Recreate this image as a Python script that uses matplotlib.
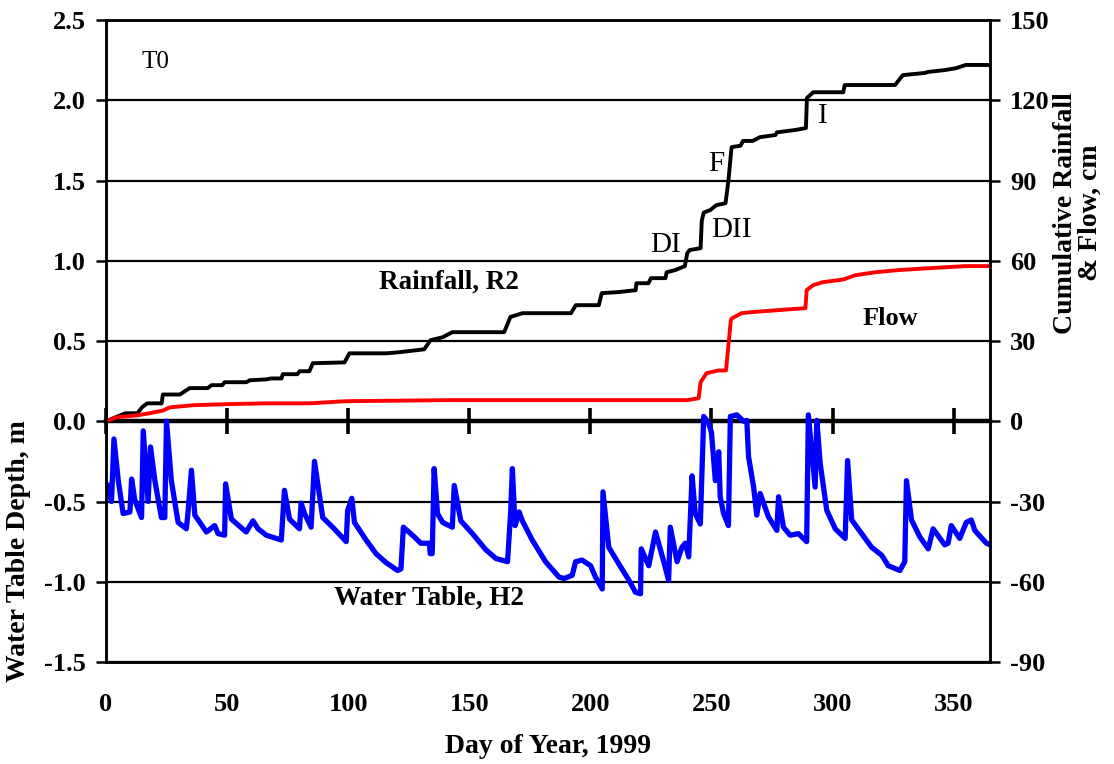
import numpy as np
import matplotlib
matplotlib.use('Agg')
import matplotlib.pyplot as plt

# cumulative rainfall R2 (cm)
rain_day = [0, 8, 13, 15, 17, 23, 23.5, 30.5, 34.6, 42, 43.6, 48, 49, 58, 59.3, 66.7, 68,
            72.5, 73, 79, 80, 84, 85.4, 98.5, 100.5, 115.8, 121, 131.4, 134, 139, 143,
            164.4, 167, 172, 192, 194, 203.5, 204.7, 211.7, 218.7, 219, 224, 225, 231,
            231.5, 235, 239, 240, 241, 245.5, 246, 246.8, 249.6, 252, 255.8, 257, 258.3,
            262, 263, 267, 270, 276.4, 277, 284.6, 289, 289.4, 292, 304.4, 305, 325.8,
            329, 338, 339.5, 346.5, 351, 355, 365]
rain_cm = [0, 3, 3, 5.3, 6.7, 6.7, 10, 10, 12.4, 12.4, 13.5, 13.5, 14.6, 14.6, 15.3, 15.7, 16,
           16, 17.6, 17.6, 18.7, 18.7, 21.7, 22, 25.4, 25.4, 25.8, 26.9, 30.3, 31.4, 33.3,
           33.3, 39, 40.4, 40.4, 43.4, 43.4, 47.9, 48.3, 49, 51.6, 51.6, 53.5, 53.5,
           55.7, 56.5, 58, 62.8, 64, 64.7, 75, 78, 79, 80.8, 81.5, 90, 102.5,
           103, 104.8, 104.8, 106.2, 107, 108, 108.9, 109.6, 120.8, 123, 123, 125.7, 125.7,
           129.4, 130.2, 130.6, 131.3, 132, 133.2, 133.2]

# cumulative flow (cm)
flow_day = [0, 4.5, 12.8, 18, 23.5, 26.4, 36, 50, 66, 84, 99, 141.7, 240, 244.7, 245.5, 248,
            253, 256, 258, 258.5, 262.4, 266.6, 288.8, 289.3, 292, 296, 304.4, 309.4,
            317.6, 327, 339.5, 354.7, 365]
flow_cm = [0, 1.5, 2.2, 3, 4, 5.2, 6, 6.4, 6.7, 6.7, 7.5, 7.9, 7.9, 8.6, 14.6, 18,
           19, 19, 37.8, 38.5, 40.4, 40.8, 42.3, 49, 50.9, 52, 53, 54.6,
           55.7, 56.5, 57.2, 58, 58]

# water table H2 (m)
wt_day = [0.55, 2.3, 3.3, 5.1, 7.1, 9.9, 10.6, 11.9, 14.7, 15.4, 17.4, 18.4, 20.2, 22.9, 24.3,
          25.0, 27.0, 29.8, 33.2, 33.9, 35.3, 36.7, 41.5, 44.9, 46.3, 49.0, 49.4, 51.8, 57.9,
          60.7, 62.8, 66.2, 72.4, 73.7, 75.8, 79.9, 80.6, 82.0, 84.7, 86.1, 89.5, 93.6, 99.2,
          99.8, 101.5, 102.6, 107.4, 111.5, 115.6, 120.4, 121.8, 122.8, 127.3, 130.0, 133.5,
          133.9, 134.7, 135.5, 136.9, 139.0, 143.0, 143.8, 146.5, 151.3, 156.8, 161.0, 165.8,
          167.1, 167.8, 168.9, 170.6, 171.9, 176.0, 181.5, 187.0, 189.1, 192.5, 193.9, 196.6,
          200.1, 202.1, 204.9, 205.2, 207.6, 211.8, 215.9, 218.6, 220.7, 221.0, 224.1, 226.9,
          230.3, 232.3, 233.0, 235.8, 237.8, 239.2, 240.6, 242.0, 243.3, 245.4, 246.8, 248.9,
          250.0, 251.6, 253.0, 253.6, 255.0, 257.0, 257.8, 260.5, 263.2, 264.6, 265.3, 267.4,
          268.7, 270.1, 273.5, 277.0, 277.7, 279.7, 282.5, 285.9, 289.3, 290.0, 292.8, 293.5,
          294.9, 297.6, 301.1, 305.2, 306.2, 307.9, 312.0, 316.1, 320.3, 323.0, 327.8, 329.8,
          330.5, 332.6, 336.0, 339.5, 341.5, 346.3, 347.7, 349.0, 352.5, 355.2, 357.3, 358.7,
          363.5, 365]
wt_m = [-0.40, -0.50, -0.11, -0.37, -0.575, -0.565, -0.36, -0.49, -0.60, -0.06, -0.50, -0.16,
        -0.37, -0.60, -0.60, 0.0, -0.37, -0.63, -0.67, -0.565, -0.305, -0.585, -0.69, -0.65,
        -0.70, -0.71, -0.39, -0.61, -0.69, -0.62, -0.67, -0.71, -0.74, -0.43, -0.61, -0.67,
        -0.51, -0.575, -0.66, -0.25, -0.60, -0.66, -0.75, -0.555, -0.48, -0.63, -0.74, -0.825,
        -0.88, -0.93, -0.92, -0.66, -0.72, -0.76, -0.76, -0.825, -0.825, -0.295, -0.575, -0.63,
        -0.66, -0.40, -0.62, -0.70, -0.80, -0.855, -0.875, -0.565, -0.295, -0.65, -0.565, -0.62,
        -0.74, -0.875, -0.97, -0.98, -0.96, -0.875, -0.865, -0.90, -0.97, -1.045, -0.44, -0.785,
        -0.89, -0.99, -1.065, -1.075, -0.795, -0.90, -0.69, -0.875, -0.99, -0.66, -0.875, -0.785,
        -0.76, -0.845, -0.34, -0.575, -0.64, 0.03, -0.015, -0.07, -0.37, -0.19, -0.47, -0.575,
        -0.65, 0.03, 0.04, 0.0, 0.005, -0.22, -0.41, -0.585, -0.45, -0.595, -0.68, -0.47, -0.66,
        -0.71, -0.70, -0.75, 0.04, -0.41, 0.005, -0.265, -0.555, -0.67, -0.73, -0.245, -0.615,
        -0.70, -0.785, -0.835, -0.90, -0.93, -0.875, -0.37, -0.615, -0.72, -0.795, -0.67, -0.77,
        -0.76, -0.65, -0.73, -0.63, -0.615, -0.68, -0.76, -0.77]

x_ticks = [0, 50, 100, 150, 200, 250, 300, 350]
left_ticks = [-1.5, -1.0, -0.5, 0.0, 0.5, 1.0, 1.5, 2.0, 2.5]
right_ticks = [-90, -60, -30, 0, 30, 60, 90, 120, 150]


def main():
    plt.rcParams['font.family'] = ['Liberation Serif', 'DejaVu Serif']
    plt.rcParams['axes.unicode_minus'] = False
    fig = plt.figure(figsize=(11.14, 7.64), dpi=100)
    ax = fig.add_axes([0.0951, 0.1335, 0.7936, 0.8403])
    ax2 = ax.twinx()

    ax.plot(wt_day, wt_m, color='#0000ff', lw=3.8, solid_joinstyle='round')
    ax2.plot(rain_day, rain_cm, color='black', lw=2.8)
    ax2.plot(flow_day, flow_cm, color='#ff0000', lw=2.8)

    ax.set_xlim(0, 365)
    ax.set_ylim(-1.5, 2.5)
    ax2.set_ylim(-90, 150)
    ax.set_yticks(left_ticks)
    ax.set_yticklabels(['%.1f' % v for v in left_ticks])
    ax2.set_yticks(right_ticks)
    ax.set_xticks(x_ticks)

    ax.yaxis.grid(True, color='black', lw=1.6)
    ax.set_axisbelow(True)
    for a in (ax, ax2):
        for s in a.spines.values():
            s.set_linewidth(1.8)
    ax.tick_params(axis='y', direction='out', length=7, width=1.8,
                   labelsize=19, pad=7.5)
    ax2.tick_params(axis='y', direction='out', length=7, width=1.8,
                    labelsize=19, pad=7.5)
    ax.tick_params(axis='x', length=0, labelsize=19, pad=22)
    for lab in ax.get_xticklabels() + ax.get_yticklabels() + ax2.get_yticklabels():
        lab.set_fontweight('bold')

    # zero line with day ticks
    zax = ax.secondary_xaxis(1.5 / 4.0)
    zax.set_xticks(x_ticks)
    zax.tick_params(direction='inout', length=19, width=2.6, labelbottom=False)
    zax.spines['bottom'].set_linewidth(3.2)

    ax.set_xlabel('Day of Year, 1999', fontsize=20, fontweight='bold', va='center')
    ax.xaxis.set_label_coords(0.5, -0.132)
    ax.set_ylabel('Water Table Depth, m', fontsize=20, fontweight='bold', va='center')
    ax.yaxis.set_label_coords(-0.0985, 0.173)
    ax2.set_ylabel('Cumulative Rainfall\n& Flow, cm', fontsize=20,
                   fontweight='bold', linespacing=1.0, va='center')
    ax2.yaxis.set_label_coords(1.099, 0.70)

    ax.text(20.5, 2.24, 'T0', fontsize=18, ha='center', va='center')
    ax.text(141.5, 0.866, 'Rainfall, R2', fontsize=19.5, fontweight='bold',
            ha='center', va='center')
    ax.text(323.8, 0.64, 'Flow', fontsize=19, fontweight='bold',
            ha='center', va='center')
    ax.text(133.5, -1.10, 'Water Table, H2', fontsize=19.5, fontweight='bold',
            ha='center', va='center')
    ax.text(231, 1.10, 'DI', fontsize=21, ha='center', va='center')
    ax.text(258.3, 1.19, 'DII', fontsize=21, ha='center', va='center')
    ax.text(251.8, 1.60, 'F', fontsize=21, ha='center', va='center')
    ax.text(295.8, 1.90, 'I', fontsize=21, ha='center', va='center')

    fig.savefig('out.png', dpi=100)


if __name__ == '__main__':
    main()
